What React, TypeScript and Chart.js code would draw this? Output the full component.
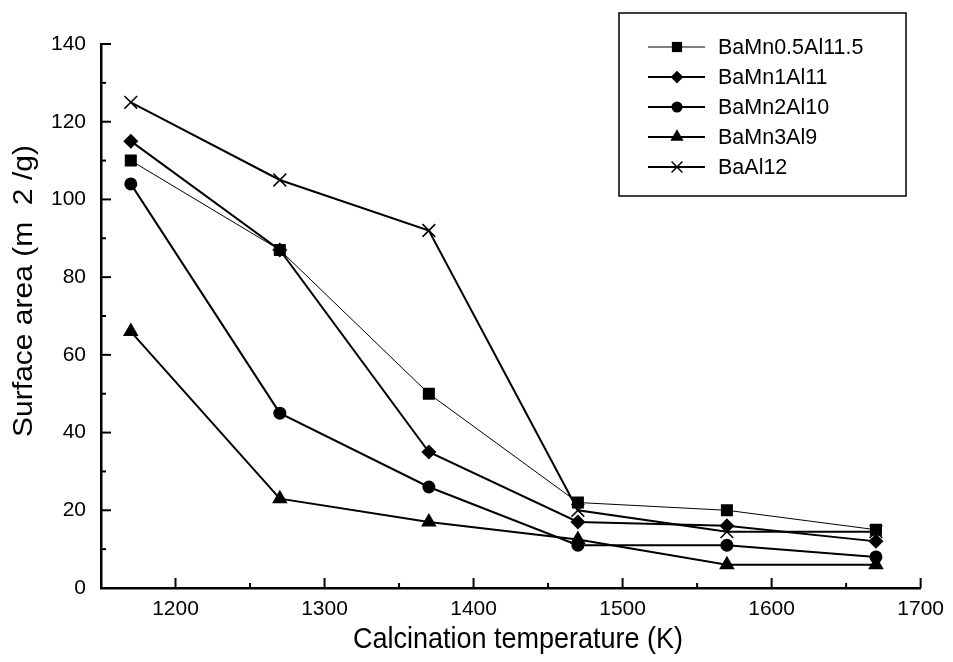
import React, { useEffect, useRef } from 'react';
import { Chart, registerables } from 'chart.js';

Chart.register(...registerables);

const temperatures = [1170, 1270, 1370, 1470, 1570, 1670];
const seriesNames = ['BaMn0.5Al11.5', 'BaMn1Al11', 'BaMn2Al10', 'BaMn3Al9', 'BaAl12'];
const bamn05al115 = [110, 87, 50, 22, 20, 15];
const bamn1al11 = [115, 87, 35, 17, 16, 12];
const bamn2al10 = [104, 45, 26, 11, 11, 8];
const bamn3al9 = [66, 23, 17, 12.5, 6, 6];
const baal12 = [125, 105, 92, 20, 14.5, 14.5];
const xTickLabels = [1200, 1300, 1400, 1500, 1600, 1700];
const yTickLabels = [0, 20, 40, 60, 80, 100, 120, 140];
const xTitle = 'Calcination temperature (K)';
const yTitle = 'Surface area (m  2 /g)';

const FONT = '"Liberation Sans", Arial, Helvetica, sans-serif';
const seriesValues = [bamn05al115, bamn1al11, bamn2al10, bamn3al9, baal12];
const pointStyles = ['rect', 'rectRot', 'circle', 'triangle', 'crossRot'];
const pointRadii = [8.5, 7.5, 6.5, 9, 9];
const lineWidths = [1, 2, 2, 2, 2];

function drawMarker(ctx: CanvasRenderingContext2D, style: string, x: number, y: number, r: number) {
  ctx.save();
  ctx.fillStyle = '#000';
  ctx.strokeStyle = '#000';
  ctx.beginPath();
  if (style === 'rect') {
    const s = r * Math.SQRT1_2;
    ctx.rect(x - s, y - s, 2 * s, 2 * s);
    ctx.fill();
  } else if (style === 'rectRot') {
    ctx.moveTo(x, y - r);
    ctx.lineTo(x + r, y);
    ctx.lineTo(x, y + r);
    ctx.lineTo(x - r, y);
    ctx.closePath();
    ctx.fill();
  } else if (style === 'circle') {
    ctx.arc(x, y, r, 0, Math.PI * 2);
    ctx.fill();
  } else if (style === 'triangle') {
    const a = Math.PI / 6;
    ctx.moveTo(x, y - r);
    ctx.lineTo(x + Math.cos(a) * r, y + Math.sin(a) * r);
    ctx.lineTo(x - Math.cos(a) * r, y + Math.sin(a) * r);
    ctx.closePath();
    ctx.fill();
  } else {
    const d = r * Math.SQRT1_2;
    ctx.lineWidth = 1.5;
    ctx.moveTo(x - d, y - d);
    ctx.lineTo(x + d, y + d);
    ctx.moveTo(x - d, y + d);
    ctx.lineTo(x + d, y - d);
    ctx.stroke();
  }
  ctx.restore();
}

const decorPlugin = {
  id: 'decor',
  afterDraw(chart: any) {
    const ctx: CanvasRenderingContext2D = chart.ctx;
    const xs = chart.scales.x;
    const ys = chart.scales.y;
    const area = chart.chartArea;
    ctx.save();
    ctx.strokeStyle = '#000';
    ctx.lineWidth = 2;
    // inward ticks on x axis
    for (let v = 1150; v <= 1700; v += 50) {
      const px = xs.getPixelForValue(v);
      const len = xTickLabels.includes(v) ? 10 : 5;
      ctx.beginPath();
      ctx.moveTo(px, area.bottom);
      ctx.lineTo(px, area.bottom - len);
      ctx.stroke();
    }
    for (let v = 0; v <= 140; v += 10) {
      const py = ys.getPixelForValue(v);
      const len = yTickLabels.includes(v) ? 10 : 5;
      ctx.beginPath();
      ctx.moveTo(area.left, py);
      ctx.lineTo(area.left + len, py);
      ctx.stroke();
    }
    // titles
    ctx.fillStyle = '#000';
    ctx.textAlign = 'center';
    ctx.textBaseline = 'middle';
    ctx.save();
    ctx.translate(518, 640);
    ctx.scale(0.9, 1);
    ctx.font = `30px ${FONT}`;
    ctx.fillText(xTitle, 0, 0);
    ctx.restore();
    ctx.save();
    ctx.translate(25, 291);
    ctx.rotate(-Math.PI / 2);
    ctx.scale(1, 0.9);
    ctx.font = `30px ${FONT}`;
    ctx.fillText(yTitle, 0, 0);
    ctx.restore();
    // legend
    ctx.lineWidth = 1.5;
    ctx.strokeRect(619, 13, 287, 183);
    ctx.font = `21.5px ${FONT}`;
    ctx.textAlign = 'left';
    seriesNames.forEach((name, i) => {
      const cy = 47 + 30 * i;
      ctx.lineWidth = lineWidths[i];
      ctx.beginPath();
      ctx.moveTo(648, cy);
      ctx.lineTo(705, cy);
      ctx.stroke();
      drawMarker(ctx, pointStyles[i], 677, cy, pointRadii[i] * 0.85);
      ctx.fillText(name, 718, cy + 1);
    });
    ctx.restore();
  },
};

export default function App() {
  const ref = useRef<HTMLCanvasElement | null>(null);
  useEffect(() => {
    document.body.style.margin = '0';
    const canvas = ref.current!;
    const datasets = seriesNames.map((name, i) => ({
      label: name,
      data: temperatures.map((t, j) => ({ x: t, y: seriesValues[i][j] })),
      borderColor: '#000',
      backgroundColor: '#000',
      borderWidth: lineWidths[i],
      pointStyle: pointStyles[i] as any,
      pointRadius: pointRadii[i],
      pointBackgroundColor: '#000',
      pointBorderColor: '#000',
      pointBorderWidth: i === 4 ? 1.5 : 0,
      tension: 0,
      fill: false,
    }));
    const chart = new Chart(canvas, {
      type: 'line',
      data: { datasets },
      options: {
        animation: false,
        responsive: false,
        maintainAspectRatio: false,
        layout: { padding: { left: 0, right: 31, top: 44, bottom: 0 } },
        plugins: { legend: { display: false }, tooltip: { enabled: false } },
        scales: {
          x: {
            type: 'linear',
            min: 1150,
            max: 1700,
            afterFit: (s: any) => { s.height = 74; },
            grid: { display: false, drawTicks: false },
            border: { display: true, color: '#000', width: 2.5 },
            ticks: {
              stepSize: 50,
              autoSkip: false,
              maxRotation: 0,
              padding: 9,
              color: '#000',
              font: { family: FONT, size: 21 },
              callback: (v: any) => (xTickLabels.includes(Number(v)) ? String(v) : ''),
            },
          },
          y: {
            type: 'linear',
            min: 0,
            max: 140,
            afterFit: (s: any) => { s.width = 101; },
            grid: { display: false, drawTicks: false },
            border: { display: true, color: '#000', width: 2.5 },
            ticks: {
              stepSize: 10,
              autoSkip: false,
              padding: 15,
              color: '#000',
              font: { family: FONT, size: 21 },
              callback: (v: any) => (yTickLabels.includes(Number(v)) ? String(v) : ''),
            },
          },
        },
      },
      plugins: [decorPlugin],
    });
    return () => chart.destroy();
  }, []);
  return (
    <div style={{ width: 953, height: 662, background: '#fff' }}>
      <canvas ref={ref} width={953} height={662} style={{ display: 'block' }} />
    </div>
  );
}
